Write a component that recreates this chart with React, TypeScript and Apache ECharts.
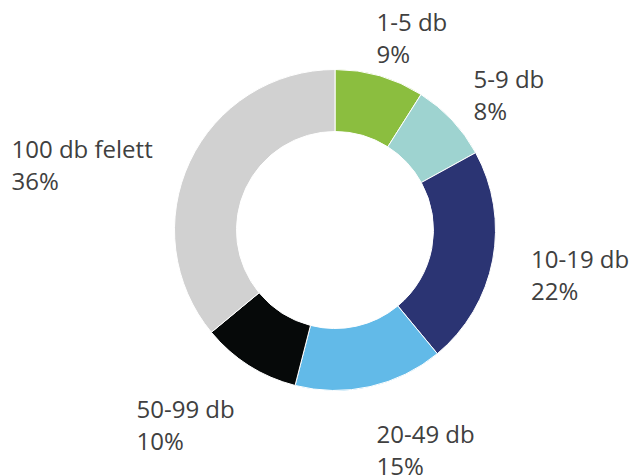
import React, { useEffect, useRef } from "react";
import * as echarts from "echarts";

const categories = ["1-5 db", "5-9 db", "10-19 db", "20-49 db", "50-99 db", "100 db felett"];
const values = [9, 8, 22, 15, 10, 36];
const colors = ["#8BBE3F", "#9ED3D0", "#2B3473", "#62BAE8", "#060909", "#D1D1D1"];
// label block top-left positions (layout only)
const labelPos: [number, number][] = [
  [376.5, 5],
  [473.5, 62],
  [531, 242],
  [376.5, 417],
  [136.5, 392],
  [11.5, 132],
];

export default function App() {
  const ref = useRef<HTMLDivElement>(null);
  useEffect(() => {
    if (!ref.current) return;
    const chart = echarts.init(ref.current, null, { renderer: "svg" });
    chart.setOption({
      animation: false,
      backgroundColor: "#ffffff",
      series: [
        {
          type: "pie",
          center: [335, 230],
          radius: [98.5, 160.5],
          startAngle: 90,
          clockwise: true,
          avoidLabelOverlap: false,
          itemStyle: { borderColor: "#ffffff", borderWidth: 1 },
          label: {
            show: true,
            position: "outside",
            formatter: "{b}\n{c}%",
            fontFamily: "Open Sans",
            fontSize: 24,
            lineHeight: 32,
            color: "#404040",
            align: "left",
          },
          labelLine: { show: false },
          labelLayout: (params: any) => {
            const p = labelPos[params.dataIndex];
            return { x: p[0], y: p[1], align: "left", verticalAlign: "top" };
          },
          emphasis: { disabled: true },
          data: categories.map((c, i) => ({
            name: c,
            value: values[i],
            itemStyle: { color: colors[i] },
          })),
        },
      ],
    });
    return () => chart.dispose();
  }, []);
  return (
    <div
      ref={ref}
      style={{ position: "fixed", left: 0, top: 0, width: 633, height: 475 }}
    />
  );
}
